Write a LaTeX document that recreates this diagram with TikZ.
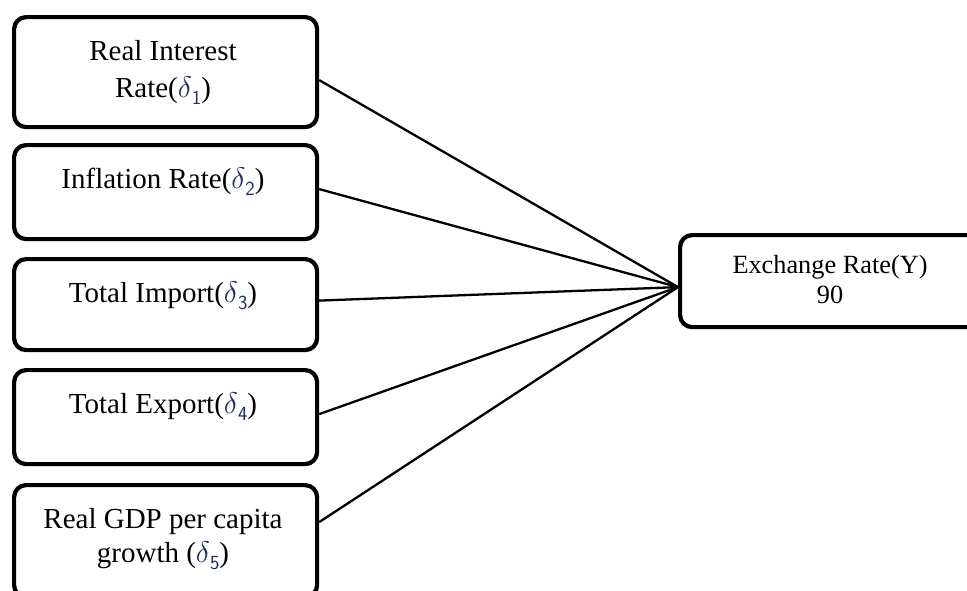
\documentclass[tikz,border=0pt]{standalone}
\usepackage{fontspec}
\setmainfont{Liberation Serif}
\definecolor{deltacol}{RGB}{30,45,100}
\newcommand{\dl}[1]{\textcolor{deltacol}{\scalebox{1.2}{$\delta$}\raisebox{-0.25em}{\fontsize{20}{20}\selectfont\sffamily #1}}}
\begin{document}
\begin{tikzpicture}[x=1pt,y=-1pt,
  box/.style={draw=black,line width=4.2pt,rounded corners=12pt,minimum width=303pt,anchor=north west,inner sep=0pt},
  txt/.style={anchor=base,inner sep=0pt,font=\fontsize{29}{34}\selectfont},
  extxt/.style={anchor=base,inner sep=0pt,font=\fontsize{26.3}{30}\selectfont},
  conn/.style={draw=black,line width=2.3pt}]
\useasboundingbox (0,0) rectangle (967,590);
\clip (0,0) rectangle (967,590);
\node[box,minimum height=110pt] (b1) at (12,15) {};
\node[box,minimum height=94pt] (b2) at (12,143) {};
\node[box,minimum height=91pt] (b3) at (12,257) {};
\node[box,minimum height=94pt] (b4) at (12,368) {};
\node[box,minimum height=112pt] (b5) at (12,483) {};
\node[box,minimum width=304pt,minimum height=92pt] (ex) at (678,233) {};
\node[txt] (t1a) at (163,60) {Real Interest};
\node[txt] (t1b) at (163,97) {Rate(\dl{1})};
\node[txt] (t2) at (163,188) {Inflation Rate(\dl{2})};
\node[txt] (t3) at (163,302) {Total Import(\dl{3})};
\node[txt] (t4) at (163,413) {Total Export(\dl{4})};
\node[txt] (t5a) at (163,528) {Real GDP per capita};
\node[txt] (t5b) at (163,562) {growth (\dl{5})};
\node[extxt] (exa) at (830,273) {Exchange Rate(Y)};
\node[extxt] (exb) at (830,303) {90};
\coordinate (hub) at ([yshift=-6pt]ex.west);
\draw[conn] ([yshift=-8pt]b1.east) -- (hub);
\draw[conn] ([yshift=3pt]b2.east) -- (hub);
\draw[conn] ([yshift=4pt]b3.east) -- (hub);
\draw[conn] ([yshift=3pt]b4.east) -- (hub);
\draw[conn] ([yshift=19pt]b5.east) -- (hub);
\end{tikzpicture}
\end{document}
